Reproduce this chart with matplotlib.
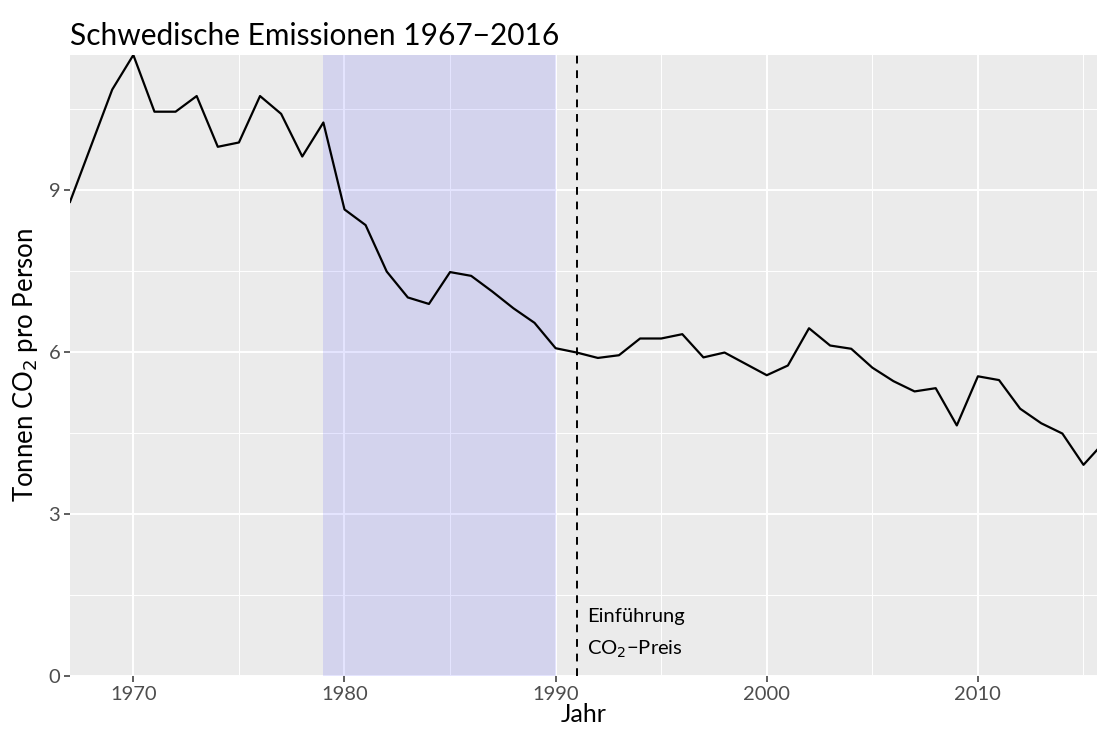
import numpy as np
import matplotlib.pyplot as plt
from matplotlib.ticker import MultipleLocator

plt.rcParams['font.family'] = ['Lato', 'DejaVu Sans']

years = np.arange(1967, 2017)
co2 = [8.78, 9.82, 10.86, 11.50, 10.45, 10.45, 10.74, 9.80, 9.88, 10.74,
       10.41, 9.62, 10.25, 8.64, 8.35, 7.49, 7.01, 6.89, 7.48, 7.41,
       7.12, 6.81, 6.54, 6.07, 5.99, 5.89, 5.94, 6.25, 6.25, 6.33,
       5.90, 5.99, 5.78, 5.57, 5.75, 6.44, 6.12, 6.06, 5.71, 5.46,
       5.27, 5.33, 4.64, 5.55, 5.48, 4.95, 4.68, 4.49, 3.91, 4.34]
shade = (1979, 1990)
tax_year = 1991

W, H = 1097, 731
fig = plt.figure(figsize=(W / 100, H / 100), dpi=100)
ax = fig.add_axes([70 / W, (H - 676) / H, (1097 - 70) / W, (676 - 55) / H])
ax.set_facecolor('#EBEBEB')

ax.set_xlim(1967, 2015.64)
ax.set_ylim(0, 11.5)
ax.xaxis.set_major_locator(MultipleLocator(10))
ax.xaxis.set_minor_locator(MultipleLocator(5))
ax.yaxis.set_major_locator(MultipleLocator(3))
ax.yaxis.set_minor_locator(MultipleLocator(1.5))
ax.grid(which='major', color='white', lw=1.4)
ax.grid(which='minor', color='white', lw=0.7)
ax.set_axisbelow(True)
for s in ax.spines.values():
    s.set_visible(False)
ax.tick_params(which='major', length=4, width=1.1, color='#333333',
               labelcolor='#4D4D4D', labelsize=14.5, pad=3)
ax.tick_params(which='minor', length=0)

ax.axvspan(shade[0], shade[1], color='blue', alpha=0.1, lw=0, zorder=2)
ax.plot(years, co2, color='black', lw=1.6, zorder=3)
ax.axvline(tax_year, color='black', lw=1.4, ls=(0, (4, 3.5)), zorder=3)
ax.text(tax_year + 0.5, 1.1, 'Einführung', fontsize=14.5, va='center', ha='left')
ax.text(tax_year + 0.5, 0.5, 'CO$_2$−Preis', fontsize=14.5, va='center', ha='left')

ax.set_xlabel('Jahr', fontsize=18, labelpad=0)
ax.set_ylabel('Tonnen CO$_2$ pro Person', fontsize=18.5, labelpad=6)
ax.set_title('Schwedische Emissionen 1967−2016', fontsize=21.5, loc='left', pad=7)

fig.savefig('out.png', dpi=100)
